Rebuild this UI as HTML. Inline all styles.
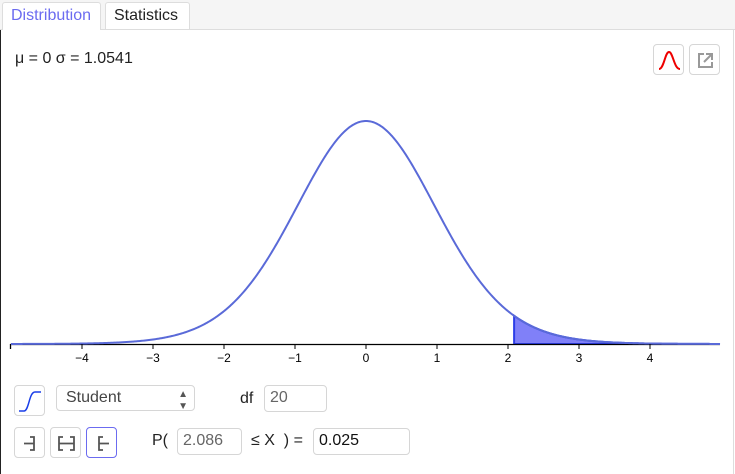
<!DOCTYPE html>
<html><head><meta charset="utf-8">
<style>
body{margin:0;width:735px;height:474px;overflow:hidden;background:#fff;font-family:"Liberation Sans",sans-serif;position:relative}
.abs{position:absolute}
.topbar{left:0;top:0;width:735px;height:29px;background:#f5f5f5;border-bottom:1px solid #ddd}
.tab{top:2px;height:27px;border:1px solid #ddd;border-bottom:none;border-radius:3px 3px 0 0;font-size:16px;line-height:26px;box-sizing:border-box;padding:0 8px}
.btn{border:1px solid #d6d6d6;border-radius:4px;background:#fff;box-sizing:border-box}
.inp{border:1px solid #d6d6d6;border-radius:4px;background:#fff;box-sizing:border-box;font-size:16px;line-height:24px;padding-left:5px;color:#666}
.lbl{font-size:16px;color:#222}
</style></head><body>
<div class="abs topbar"></div>
<div class="abs tab" style="left:2px;width:99px;background:#fff;color:#6b6bf0;height:28px">Distribution</div>
<div class="abs tab" style="left:105px;width:85px;background:#fff;color:#222">Statistics</div>
<div class="abs" style="left:0;top:30px;width:1px;height:444px;background:#222"></div>
<div class="abs" style="left:733px;top:30px;width:1px;height:444px;background:#ddd"></div>
<div class="abs lbl" style="left:15px;top:50px">μ = 0 σ = 1.0541</div>
<div class="abs btn" style="left:653px;top:44px;width:31px;height:31px">
<svg width="31" height="31"><path d="M5 24 C10 24 11 7 15 7 C19 7 20 24 26 24" fill="none" stroke="#e00" stroke-width="2"/></svg></div>
<div class="abs btn" style="left:689px;top:44px;width:31px;height:31px">
<svg width="31" height="31"><path d="M14 9 H9 V22 H22 V17" fill="none" stroke="#999" stroke-width="2"/><path d="M14 17 L22 9 M16 9 H22 V15" fill="none" stroke="#999" stroke-width="2"/></svg></div>

<svg class="abs" style="left:0;top:0" width="735" height="370" id="chart"></svg>

<div class="abs btn" style="left:14px;top:385px;width:31px;height:31px">
<svg width="31" height="31"><path d="M4 25 H9 C14 25 14 6 20 6 H26" fill="none" stroke="#1a3ee8" stroke-width="1.5"/></svg></div>
<div class="abs btn" style="left:56px;top:385px;width:139px;height:26px;font-size:16px;line-height:24px;padding-left:9px;color:#444">Student<span style="position:absolute;right:6px;top:0;font-size:10px;line-height:12px;color:#555;top:3px">▲<br>▼</span></div>
<div class="abs lbl" style="left:240px;top:390px">df</div>
<div class="abs inp" style="left:264px;top:385px;width:63px;height:27px">20</div>
<div class="abs btn" style="left:14px;top:427px;width:31px;height:31px">
<svg width="31" height="31"><path d="M15 9 H19 V22 H15 M9 15.5 H19" fill="none" stroke="#555" stroke-width="1.8"/></svg></div>
<div class="abs btn" style="left:50px;top:427px;width:31px;height:31px">
<svg width="31" height="31"><path d="M12 9 H8 V22 H12 M19 9 H23 V22 H19 M8 15.5 H23" fill="none" stroke="#555" stroke-width="1.8"/></svg></div>
<div class="abs btn" style="left:86px;top:427px;width:31px;height:31px;border-color:#6b6bf0">
<svg width="31" height="31"><path d="M16 9 H12 V22 H16 M12 15.5 H22" fill="none" stroke="#555" stroke-width="1.8"/></svg></div>
<div class="abs lbl" style="left:152px;top:432px">P(</div>
<div class="abs inp" style="left:177px;top:428px;width:65px;height:27px">2.086</div>
<div class="abs lbl" style="left:251px;top:432px">≤ X &nbsp;) =</div>
<div class="abs inp" style="left:313px;top:428px;width:97px;height:27px;color:#111">0.025</div>

<script>
const df = 20;
const tickValues = [-4,-3,-2,-1,0,1,2,3,4];
const tickLabels = ["\u22124","\u22123","\u22122","\u22121","0","1","2","3","4"];
const xDomain = [-5, 5];
const shadeFrom = [2.086];
const ns="http://www.w3.org/2000/svg";
const svg=document.getElementById('chart');
const X=v=>366+v*71, Y=d=>344-d*566;
function lg(z){const g=[676.5203681218851,-1259.1392167224028,771.32342877765313,-176.61502916214059,12.507343278686905,-0.13857109526572012,9.9843695780195716e-6,1.5056327351493116e-7];z-=1;let x=0.99999999999980993;for(let i=0;i<8;i++)x+=g[i]/(z+i+1);const t=z+7.5;return 0.5*Math.log(2*Math.PI)+(z+0.5)*Math.log(t)-t+Math.log(x);}
const C=Math.exp(lg((df+1)/2)-lg(df/2))/Math.sqrt(df*Math.PI);
const pdf=t=>C*Math.pow(1+t*t/df,-(df+1)/2);
let d="";for(let px=X(xDomain[0]);px<=720;px++){const t=(px-366)/71;d+=(d?"L":"M")+px+" "+Y(pdf(t)).toFixed(2);}
let s="M"+X(shadeFrom[0])+" 344";for(let px=X(shadeFrom[0]);px<=720;px++){s+="L"+px+" "+Y(pdf((px-366)/71)).toFixed(2);}s+="L720 344Z";
const sh=document.createElementNS(ns,'path');sh.setAttribute('d',s);sh.setAttribute('fill','#8080f8');sh.setAttribute('stroke','#2d3ee8');sh.setAttribute('stroke-width','2');


svg.appendChild(sh);
const ax=document.createElementNS(ns,'path');ax.setAttribute('d','M10 344.5H720M10.5 344V349');ax.setAttribute('stroke','#000');ax.setAttribute('stroke-width','1.3');


svg.appendChild(ax);
const cv=document.createElementNS(ns,'path');cv.setAttribute('d',d);cv.setAttribute('fill','none');cv.setAttribute('stroke','#5a6ad8');cv.setAttribute('stroke-width','2');


svg.appendChild(cv);
tickValues.forEach((v,i)=>{
 const tk=document.createElementNS(ns,'line');tk.setAttribute('x1',X(v));tk.setAttribute('x2',X(v));tk.setAttribute('y1',344);tk.setAttribute('y2',349);tk.setAttribute('stroke','#000');
 
 
 svg.appendChild(tk);
 const tx=document.createElementNS(ns,'text');tx.setAttribute('x',X(v));tx.setAttribute('y',362);tx.setAttribute('text-anchor','middle');tx.setAttribute('font-size','12');tx.setAttribute('font-family','Liberation Sans, sans-serif');tx.textContent=tickLabels[i];
 
 
 svg.appendChild(tx);
});
</script>
</body></html>
